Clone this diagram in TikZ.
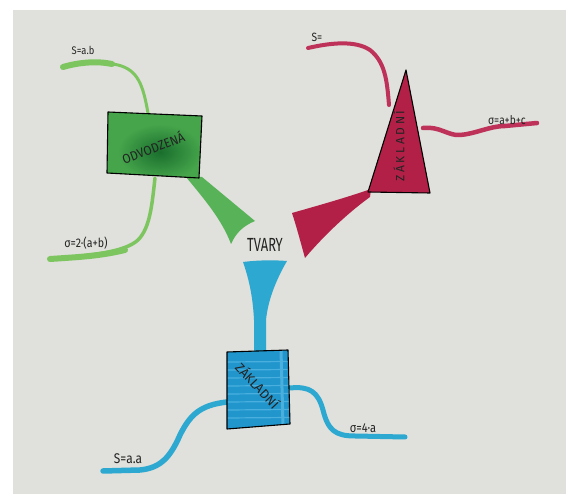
\documentclass[tikz,border=0pt]{standalone}
\usepackage{fontspec}
\setmainfont{Fira Sans}
\definecolor{paper}{RGB}{224,224,220}
\definecolor{ink}{RGB}{35,35,35}
\definecolor{gbox}{RGB}{70,165,75}
\definecolor{gdark}{RGB}{25,110,45}
\definecolor{gline}{RGB}{125,198,95}
\definecolor{gwedge}{RGB}{88,178,88}
\definecolor{bbox}{RGB}{32,150,205}
\definecolor{bstripe}{RGB}{75,175,222}
\definecolor{bline}{RGB}{45,168,208}
\definecolor{rbox}{RGB}{178,32,72}
\definecolor{rline}{RGB}{190,50,90}
\begin{document}
\begin{tikzpicture}[x=1pt,y=-1pt,
  marker/.style={line width=#1, line cap=round, line join=round},
  outline/.style={draw=black, line width=1.1pt, line join=round},
  lbl/.style={text=ink, inner sep=0pt},
  title/.style={text=ink, inner sep=0pt, font=\fontsize{19}{19}\selectfont},
  boxtext/.style={text=ink, inner sep=0pt, font=\fontsize{13}{13}\selectfont}
]
\useasboundingbox (0,0) rectangle (566,494);
\fill[white] (0,0) rectangle (566,494);
\fill[paper] (13,10) rectangle (566,494);

% ---------- named points ----------
\coordinate (gTL) at (108,112);
\coordinate (gTR) at (202,116);
\coordinate (gBR) at (199,178);
\coordinate (gBL) at (107,173);
\coordinate (bTL) at (227,352);
\coordinate (bTR) at (288,350);
\coordinate (bBR) at (290,424);
\coordinate (bBL) at (227,429);
\coordinate (rA) at (406,70);
\coordinate (rL) at (368,192);
\coordinate (rR) at (430,193);
\coordinate (gArea) at (63,67);
\coordinate (gPer) at (50,259);
\coordinate (rArea) at (308,48);
\coordinate (rPer) at (537,123);
\coordinate (bArea) at (103,471);
\coordinate (bPer) at (405,437);

% ---------- central label ----------
\node[title, xscale=0.68] (tvary) at (265,245) {TVARY};

% ---------- green branch ----------
\draw[gline, marker=3pt] (148,113) .. controls (143,85) and (138,70) .. (118,65)
   .. controls (100,61) and (80,62) .. (gArea);
\draw[gline, marker=6pt] (112,64) .. controls (98,61) and (80,62) .. (gArea);
\draw[gline, marker=3.5pt] (155,178) .. controls (152,205) and (150,228) .. (138,240)
   .. controls (125,252) and (90,256) .. (gPer);
\draw[gline, marker=6pt] (125,250) .. controls (100,256) and (80,257) .. (gPer);
\fill[gwedge] (186,177) -- (202,177) -- (255,221) .. controls (243,226) and (236,233) .. (231,244)
   .. controls (222,220) and (205,200) .. cycle;
\fill[gbox] (gTL) -- (gTR) -- (gBR) -- (gBL) -- cycle;
\begin{scope}
  \clip (gTL) -- (gTR) -- (gBR) -- (gBL) -- cycle;
  \shade[inner color=gdark, outer color=gbox] (160,152) ellipse (42 and 28);
\end{scope}
\draw[outline] (gTL) -- (gTR) -- (gBR) -- (gBL) -- cycle;
\node[boxtext, rotate=21, xscale=0.92] (odv) at (153,147) {ODVODZENÁ};
\node[lbl, font=\fontsize{11}{11}\selectfont, xscale=0.85] (gS) at (83,50) {S=a.b};
\node[lbl, font=\fontsize{12.5}{12.5}\selectfont, xscale=0.85] (gO) at (86,243) {σ=2·(a+b)};

% ---------- red branch ----------
\draw[rline, marker=4pt] (389,105) .. controls (387,80) and (385,62) .. (370,50)
   .. controls (355,40) and (330,43) .. (rArea);
\draw[rline, marker=4.5pt] (423,128) .. controls (440,126) and (448,136) .. (460,135)
   .. controls (475,134) and (490,126) .. (505,126) -- (rPer);
\fill[rbox] (371,189) -- (370,197) .. controls (345,215) and (320,240) .. (305,258)
   .. controls (300,240) and (296,225) .. (292,213) .. controls (320,205) and (345,198) .. cycle;
\fill[rbox] (rA) -- (rR) -- (rL) -- cycle;
\draw[outline] (rA) -- (rR) -- (rL) -- cycle;
\node[boxtext, rotate=90, font=\fontsize{12}{12}\selectfont\addfontfeatures{LetterSpace=22}] (zak2) at (399,146) {ZÁKLADNÍ};
\node[lbl, font=\fontsize{12}{12}\selectfont, xscale=0.85] (rS) at (317,37) {S=};
\node[lbl, font=\fontsize{12}{12}\selectfont, xscale=0.85] (rO) at (507,120) {σ=a+b+c};

% ---------- blue branch ----------
\fill[bline] (243,262) .. controls (258,260) and (275,260) .. (287,261)
   .. controls (276,280) and (268,300) .. (266,320) -- (266,352) -- (254,352) -- (254,320)
   .. controls (253,300) and (250,282) .. cycle;
\draw[bline, marker=5.5pt] (227,402) .. controls (200,405) and (190,415) .. (180,435)
   .. controls (170,458) and (160,468) .. (140,470) -- (bArea);
\draw[bline, marker=5pt] (290,388) .. controls (310,386) and (318,392) .. (323,410)
   .. controls (328,430) and (335,436) .. (355,436) -- (bPer);
\fill[bbox] (bTL) -- (bTR) -- (bBR) -- (bBL) -- cycle;
\begin{scope}
  \clip (bTL) -- (bTR) -- (bBR) -- (bBL) -- cycle;
  \foreach \yy in {362,370,378,386,394,402,410,418} {
    \draw[bstripe, line width=1.2pt] (227,\yy) -- (290,\yy-0.5);
  }
  \draw[bstripe, line width=3pt] (281,350) -- (283,426);
\end{scope}
\draw[outline] (bTL) -- (bTR) -- (bBR) -- (bBL) -- cycle;
\node[boxtext, rotate=-47, font=\fontsize{13}{13}\selectfont] (zak1) at (258,385) {ZÁKLADNÍ};
\node[lbl, font=\fontsize{14}{14}\selectfont, xscale=0.85] (bS) at (128,459) {S=a.a};
\node[lbl, font=\fontsize{13}{13}\selectfont, xscale=0.85] (bO) at (363,428) {σ=4·a};
\end{tikzpicture}
\end{document}
